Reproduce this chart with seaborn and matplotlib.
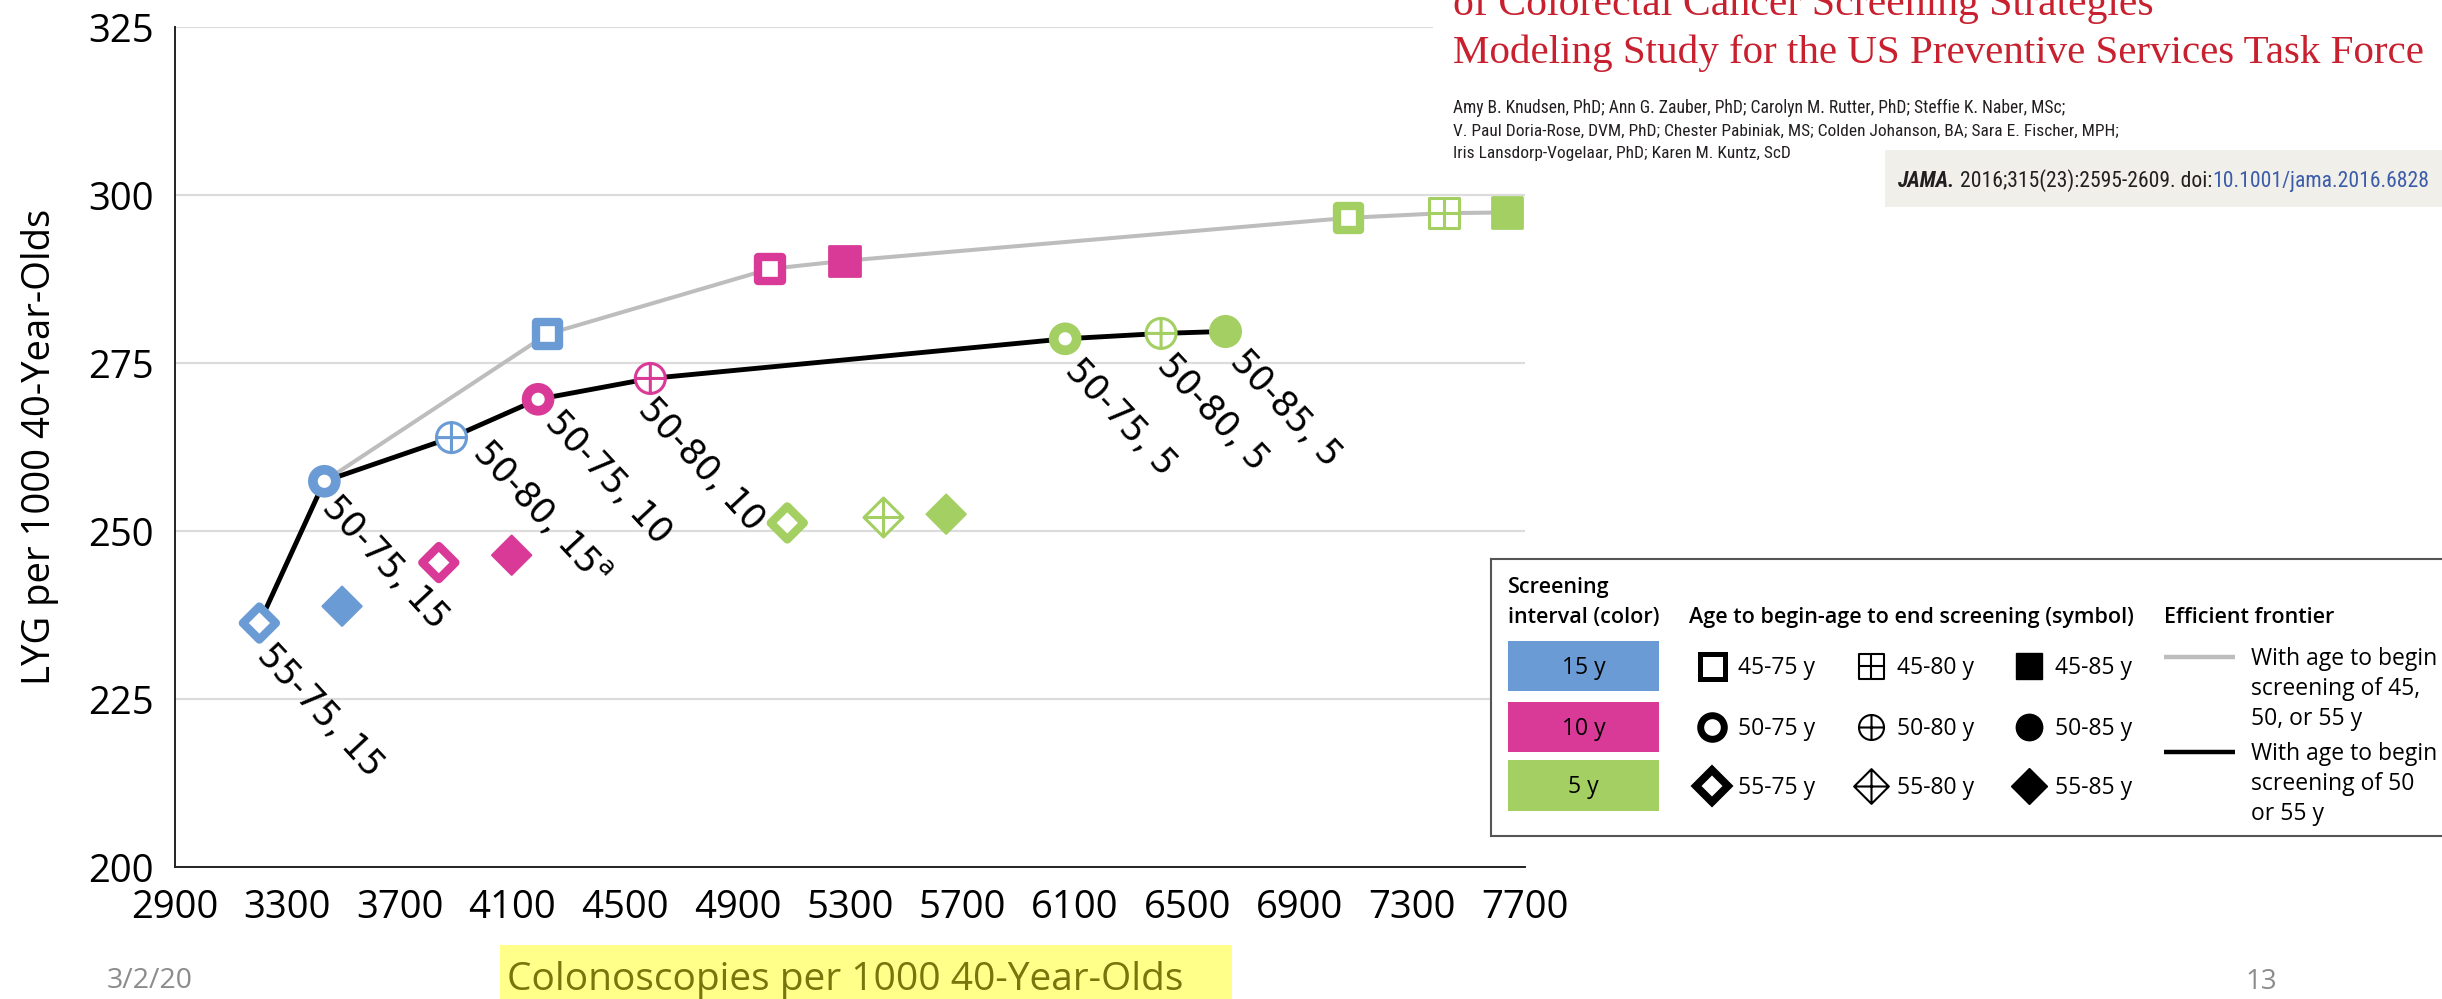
import numpy as np
import pandas as pd
import matplotlib
matplotlib.use("Agg")
import matplotlib.pyplot as plt
from matplotlib.path import Path
from matplotlib.patches import Rectangle
from matplotlib import font_manager
import seaborn as sns

# ---------------------------------------------------------------- data
# age to begin - age to end screening, screening interval (years)
strategies = ["55-75", "55-85", "50-75", "50-80", "45-75",
              "55-75", "55-85", "50-75", "50-80", "45-75", "45-85",
              "55-75", "55-80", "55-85", "50-75", "50-80", "50-85",
              "45-75", "45-80", "45-85"]
intervals = [15, 15, 15, 15, 15,
             10, 10, 10, 10, 10, 10,
             5, 5, 5, 5, 5, 5, 5, 5, 5]
colonoscopies = [3200, 3494, 3431, 3883, 4224,
                 3838, 4097, 4191, 4590, 5015, 5280,
                 5077, 5418, 5642, 6065, 6406, 6634,
                 7072, 7412, 7637]
lyg = [236.3, 238.8, 257.4, 263.9, 279.3,
       245.3, 246.4, 269.6, 272.7, 289.0, 290.2,
       251.2, 252.1, 252.5, 278.6, 279.4, 279.7,
       296.6, 297.3, 297.4]

# efficient frontiers (strategy, interval)
frontier_45_50_55 = [("55-75", 15), ("50-75", 15), ("45-75", 15), ("45-75", 10),
                     ("45-85", 10), ("45-75", 5), ("45-80", 5), ("45-85", 5)]
frontier_50_55 = [("55-75", 15), ("50-75", 15), ("50-80", 15), ("50-75", 10),
                  ("50-80", 10), ("50-75", 5), ("50-80", 5), ("50-85", 5)]

# labelled strategies (strategy, interval, footnote)
labelled = [("55-75", 15, ""), ("50-75", 15, ""), ("50-80", 15, "a"),
            ("50-75", 10, ""), ("50-80", 10, ""),
            ("50-75", 5, ""), ("50-80", 5, ""), ("50-85", 5, "")]

x_ticks = [2900, 3300, 3700, 4100, 4500, 4900, 5300, 5700, 6100, 6500, 6900, 7300, 7700]
y_ticks = [200, 225, 250, 275, 300, 325]

interval_names = {15: "15 y", 10: "10 y", 5: "5 y"}
symbol_grid = [["45-75", "45-80", "45-85"],
               ["50-75", "50-80", "50-85"],
               ["55-75", "55-80", "55-85"]]

title_lines = ["of Colorectal Cancer Screening Strategies",
               "Modeling Study for the US Preventive Services Task Force"]
author_lines = ["Amy B. Knudsen, PhD; Ann G. Zauber, PhD; Carolyn M. Rutter, PhD; Steffie K. Naber, MSc;",
                "V. Paul Doria-Rose, DVM, PhD; Chester Pabiniak, MS; Colden Johanson, BA; Sara E. Fischer, MPH;",
                "Iris Lansdorp-Vogelaar, PhD; Karen M. Kuntz, ScD"]
citation = [("JAMA.", "italic", "bold", "#231f20"),
            (" 2016;315(23):2595-2609. doi:", "normal", "normal", "#231f20"),
            ("10.1001/jama.2016.6828", "normal", "normal", "#3b5ca8")]

df = pd.DataFrame({"strategy": strategies, "interval": intervals,
                   "colonoscopies": colonoscopies, "lyg": lyg})

# ---------------------------------------------------------------- style
sns.set_style("white")
available = {f.name for f in font_manager.fontManager.ttflist}


def pick(*names):
    for n in names:
        if n in available:
            return n
    return "DejaVu Sans"


SANS = pick("Open Sans", "Noto Sans", "DejaVu Sans")
NARROW = pick("Liberation Sans Narrow", "Roboto Condensed", "Roboto", SANS)
SERIF = pick("Liberation Serif", "DejaVu Serif")
plt.rcParams["font.family"] = [SANS, "DejaVu Sans"]
plt.rcParams["mathtext.fontset"] = "custom"
plt.rcParams["mathtext.rm"] = "DejaVu Sans"
plt.rcParams["mathtext.default"] = "rm"

palette = {15: "#6a9bd4", 10: "#d93a97", 5: "#a3cf63"}
GRAY_LINE = "#bdbdbd"

# marker shapes
MOVE, LINE, CLOSE = Path.MOVETO, Path.LINETO, Path.CLOSEPOLY
cross = Path([[-1, 0], [1, 0], [0, -1], [0, 1]], [MOVE, LINE, MOVE, LINE])
square = Path([[-1, -1], [1, -1], [1, 1], [-1, 1], [-1, -1]], [MOVE, LINE, LINE, LINE, CLOSE])
diamond = Path([[0, -1], [1, 0], [0, 1], [-1, 0], [0, -1]], [MOVE, LINE, LINE, LINE, CLOSE])
circle_plus = Path.make_compound_path(Path.unit_circle(), cross)
square_plus = Path.make_compound_path(square, cross)
diamond_plus = Path.make_compound_path(diamond, cross)

# (marker, size pt, edge width pt, open?)
symbols = {
    "45-75": ("s", 17.0, 6.0, True),
    "45-80": (square_plus, 21.6, 2.2, True),
    "45-85": ("s", 21.8, 2.0, False),
    "50-75": ("o", 16.5, 7.0, True),
    "50-80": (circle_plus, 21.6, 2.2, True),
    "50-85": ("o", 21.8, 2.0, False),
    "55-75": ("D", 16.8, 6.0, True),
    "55-80": (diamond_plus, 28.0, 2.2, True),
    "55-85": ("D", 20.0, 1.5, False),
}
legend_symbols = {
    "45-75": ("s", 18.0, 3.6, True),
    "45-80": (square_plus, 18.0, 1.5, True),
    "45-85": ("s", 18.5, 1.0, False),
    "50-75": ("o", 17.0, 5.0, True),
    "50-80": (circle_plus, 18.0, 1.5, True),
    "50-85": ("o", 19.0, 1.0, False),
    "55-75": ("D", 15.8, 5.6, True),
    "55-80": (diamond_plus, 25.0, 1.5, True),
    "55-85": ("D", 18.0, 1.0, False),
}

# ---------------------------------------------------------------- figure
W, H, DPI = 2442, 999, 100
fig = plt.figure(figsize=(W / DPI, H / DPI), dpi=DPI)
fig.patch.set_facecolor("white")


def ftext(px, py, s, **kw):
    return fig.text(px / W, 1 - py / H, s, **kw)


ax = fig.add_axes([175 / W, 1 - 867 / H, 1350 / W, 840 / H])


def lookup(keys):
    table = df.set_index(["strategy", "interval"])
    return pd.DataFrame([{"colonoscopies": table.loc[k, "colonoscopies"],
                          "lyg": table.loc[k, "lyg"]} for k in keys])


# efficient frontiers
sns.lineplot(data=lookup(frontier_45_50_55), x="colonoscopies", y="lyg", sort=False,
             estimator=None, color=GRAY_LINE, lw=2.9, ax=ax, zorder=2)
sns.lineplot(data=lookup(frontier_50_55), x="colonoscopies", y="lyg", sort=False,
             estimator=None, color="black", lw=3.5, ax=ax, zorder=3)

# strategy markers: colour = interval, symbol = ages
for key, (mk, size, lw, hollow) in symbols.items():
    sub = df[df["strategy"] == key]
    if sub.empty:
        continue
    n0 = len(ax.collections)
    sns.scatterplot(data=sub, x="colonoscopies", y="lyg", hue="interval",
                    palette=palette, marker=mk, s=size ** 2, linewidth=lw,
                    legend=False, ax=ax, zorder=4)
    coll = ax.collections[n0]
    cols = coll.get_facecolors()
    coll.set_edgecolors(cols)
    if hollow:
        coll.set_facecolors("white")

# strategy labels
label_offsets = {("55-75", 15): (4, 26), ("50-75", 15): (4, 20), ("50-80", 15): (28, 8),
                 ("50-75", 10): (13, 17), ("50-80", 10): (-6, 25),
                 ("50-75", 5): (6, 26), ("50-80", 5): (2, 26), ("50-85", 5): (11, 24)}
table = df.set_index(["strategy", "interval"])
for strat, itv, note in labelled:
    x, y = table.loc[(strat, itv), "colonoscopies"], table.loc[(strat, itv), "lyg"]
    text = f"{strat}, {itv}" + (f"$^{{{note}}}$" if note else "")
    dx, dy = label_offsets[(strat, itv)]
    ax.annotate(text, xy=(x, y), xytext=(dx, -dy), textcoords="offset pixels",
                rotation=-47, rotation_mode="anchor", ha="left", va="center",
                fontsize=25, family="DejaVu Sans", color="black", zorder=5)

# axes
ax.set_xlim(x_ticks[0], x_ticks[-1])
ax.set_ylim(y_ticks[0], y_ticks[-1])
ax.set_xticks(x_ticks)
ax.set_yticks(y_ticks)
ax.tick_params(axis="both", direction="out", length=9.4, width=1.2, color="#333333",
               labelsize=27.5, labelcolor="black")
ax.tick_params(axis="x", pad=6.5)
ax.tick_params(axis="y", pad=6)
ax.yaxis.grid(True, color="#dcdcdc", lw=1.6)
ax.xaxis.grid(False)
ax.set_axisbelow(True)
for side in ("top", "right"):
    ax.spines[side].set_visible(False)
for side in ("left", "bottom"):
    ax.spines[side].set_color("#222222")
    ax.spines[side].set_linewidth(1.4)

ax.set_ylabel("LYG per 1000 40-Year-Olds", fontsize=27.5, color="black")
ax.yaxis.set_label_coords((59 - 175) / 1350, 0.5)
ax.set_xlabel("Colonoscopies per 1000 40-Year-Olds", fontsize=28, color="#76760c",
              ha="left", va="baseline")
ax.xaxis.set_label_coords((507 - 175) / 1350, (867 - 990) / 840)
fig.patches.append(Rectangle((500 / W, 0), 732 / W, 54 / H, transform=fig.transFigure,
                             facecolor="#ffff8a", edgecolor="none", zorder=-1))

# slide date and page number
ftext(107, 988, "3/2/20", fontsize=20.5, color="#8c8c8c", va="baseline")
ftext(2245, 989, "13", fontsize=20, color="#8c8c8c", va="baseline")

# ---------------------------------------------------------------- article header
fig.patches.append(Rectangle((1433 / W, 1 - 100 / H), (W - 1433) / W, 100 / H,
                             transform=fig.transFigure, facecolor="white",
                             edgecolor="none", zorder=1))
renderer = fig.canvas.get_renderer()


def fit(t, width):
    w = t.get_window_extent(renderer).width
    t.set_fontsize(t.get_fontsize() * width / w)


for line, base, width in zip(title_lines, (15, 63), (701, 970)):
    t = ftext(1453, base, line, family=SERIF, color="#c8202f", fontsize=30,
              va="baseline", zorder=3)
    fit(t, width)

for line, base, width in zip(author_lines, (113, 136, 158), (611, 661, 336)):
    t = ftext(1453, base, line, family=NARROW, color="#231f20", fontsize=10,
              va="baseline", zorder=3)
    fit(t, width)

fig.patches.append(Rectangle((1885 / W, 1 - 207 / H), (W - 1885) / W, 57 / H,
                             transform=fig.transFigure, facecolor="#f1efea",
                             edgecolor="none", zorder=1))
runs = [ftext(1898, 187, s, family=NARROW, fontstyle=st, fontweight=wt, color=c,
              fontsize=13, va="baseline", zorder=3) for s, st, wt, c in citation]


def layout_runs(x0):
    x = x0
    for t in runs:
        t.set_x(x / W)
        x += t.get_window_extent(renderer).width
    return x - x0


total = layout_runs(1898)
for t in runs:
    t.set_fontsize(t.get_fontsize() * 530 / total)
layout_runs(1898)

# ---------------------------------------------------------------- key
lx0, lx1, ly0, ly1 = 1491, W, 559, 836
lg = fig.add_axes([lx0 / W, 1 - ly1 / H, (lx1 - lx0) / W, (ly1 - ly0) / H])
lg.set_zorder(3)
lg.set_xlim(lx0, lx1)
lg.set_ylim(ly1, ly0)
lg.set_xticks([])
lg.set_yticks([])
lg.set_facecolor("white")
for side in ("top", "bottom", "left"):
    lg.spines[side].set_color("#555555")
    lg.spines[side].set_linewidth(1.5)
lg.spines["right"].set_visible(False)

head = dict(fontsize=15.5, fontweight="semibold", color="black", va="baseline", ha="left")
lg.text(1508, 593, "Screening", **head)
lg.text(1508, 623, "interval (color)", **head)
lg.text(1689, 623, "Age to begin-age to end screening (symbol)", **head)
lg.text(2164, 623, "Efficient frontier", **head)

body = dict(fontsize=16.5, color="black", va="baseline", ha="left")
swatch_rows = [(641, 691), (702, 752), (760, 811)]
for (top, bot), itv in zip(swatch_rows, palette):
    lg.add_patch(Rectangle((1508, top), 151, bot - top, facecolor=palette[itv],
                           edgecolor="none"))
    lg.text(1583.5, (top + bot) / 2 + 8, interval_names[itv],
            **{**body, "ha": "center"})

row_y = [666, 727, 786]
col_x = [1712, 1871, 2029]
for r, row in enumerate(symbol_grid):
    for c, key in enumerate(row):
        mk, size, lw, hollow = legend_symbols[key]
        lg.plot([col_x[c]], [row_y[r]], ls="none", marker=mk, ms=size, mew=lw,
                mec="black", mfc="white" if hollow else "black")
        lg.text(col_x[c] + 26, row_y[r] + 8.5, f"{key} y", **body)

lg.plot([2164, 2235], [657, 657], color=GRAY_LINE, lw=3.2, solid_capstyle="butt")
lg.plot([2164, 2235], [752, 752], color="black", lw=3.2, solid_capstyle="butt")
for txt, base in zip(["With age to begin", "screening of 45,", "50, or 55 y"], (665, 695, 725)):
    lg.text(2251, base, txt, **body)
for txt, base in zip(["With age to begin", "screening of 50", "or 55 y"], (760, 790, 820)):
    lg.text(2251, base, txt, **body)

fig.savefig("out.png", dpi=DPI, facecolor="white")
